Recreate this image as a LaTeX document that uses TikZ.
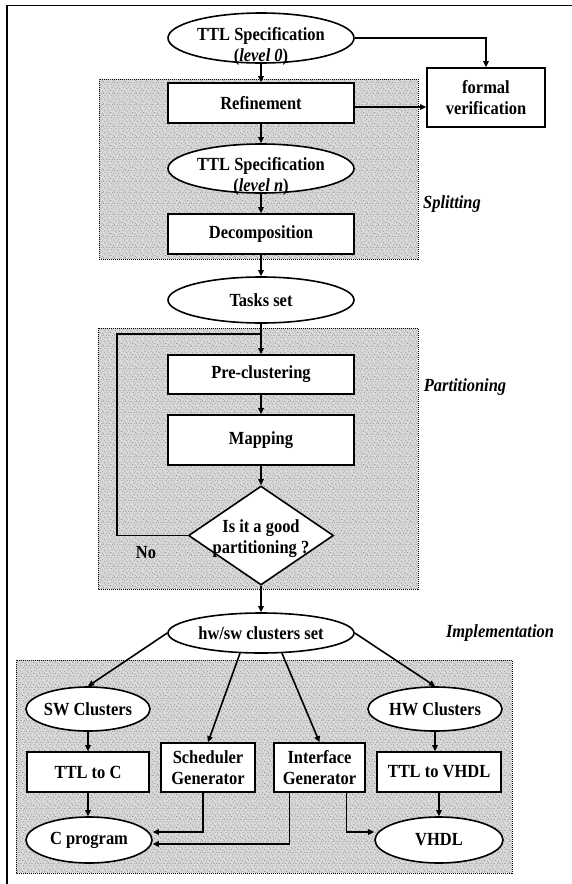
\documentclass[tikz,border=0pt]{standalone}
\usepackage{fontspec}
\setmainfont{Liberation Serif}[FakeStretch=0.89]
\usetikzlibrary{shapes.geometric,arrows.meta,patterns}

% irregular stipple used to texture the shaded phase areas
\pgfdeclarepatternformonly{stipple}{\pgfpointorigin}{\pgfpoint{11pt}{11pt}}{\pgfpoint{11pt}{11pt}}{%
  \foreach \px/\py in {0.4/1.2, 3.1/0.3, 6.8/1.9, 9.5/0.8, 1.7/4.1, 5.2/3.6, 8.3/4.9,
                       10.2/3.1, 0.9/7.4, 3.8/6.2, 6.1/8.0, 9.0/7.1, 2.5/9.6, 7.4/10.1, 4.6/10.4, 10.6/9.8} {
    \pgfpathrectangle{\pgfpoint{\px pt}{\py pt}}{\pgfpoint{0.8pt}{0.8pt}}%
  }
  \pgfusepath{fill}%
}

\begin{document}
\begin{tikzpicture}[x=1pt,y=-1pt,
  every node/.style={font=\fontsize{18.5}{21}\selectfont\bfseries},
  box/.style={draw, fill=white, line width=1.6pt, inner sep=0pt, align=center},
  oval/.style={draw, fill=white, ellipse, line width=1.6pt, inner sep=0pt},
  test/.style={draw, fill=white, diamond, line width=1.6pt, inner sep=0pt},
  txt/.style={inner sep=0pt, align=center},
  zone/.style={fill=black!15, draw=black, dash pattern=on 1pt off 1pt, line width=1pt,
               postaction={pattern=stipple, pattern color=black!60}},
  phase/.style={inner sep=0pt, font=\fontsize{18.5}{21}\selectfont\bfseries\itshape},
  flow/.style={line width=1.6pt, -{Triangle[length=6pt,width=5.5pt]}},
  wire/.style={line width=1.6pt}
]
\useasboundingbox (0,0) rectangle (572,884);

% page frame
\draw[line width=1.5pt] (7,884) -- (7,5.5) -- (572,5.5);

% shaded phase areas
\path[zone] (99,79) rectangle (418,259);
\path[zone] (98,328) rectangle (418,589);
\path[zone] (16,660) rectangle (512,873);

% phase names
\node[phase] (lsplit) at (452,204) {Splitting};
\node[phase] (lpart) at (465,387) {Partitioning};
\node[phase] (limpl) at (500,633) {Implementation};

% splitting
\node[oval, minimum width=186pt, minimum height=50pt] (spec0) at (261,38) {};
\node[txt] (spec0txt) at (261,46) {TTL Specification\\(\textit{level 0})};
\node[box, minimum width=118pt, minimum height=59pt] (formal) at (486,97.5) {formal\\verification};
\node[box, minimum width=186pt, minimum height=40pt] (refine) at (261,103) {Refinement};
\node[oval, minimum width=186pt, minimum height=49pt] (specn) at (261,168.5) {};
\node[txt] (specntxt) at (261,176) {TTL Specification\\(\textit{level n})};
\node[box, minimum width=186pt, minimum height=40pt] (decomp) at (261,234) {Decomposition};

% partitioning
\node[oval, minimum width=186pt, minimum height=46pt] (tasks) at (261,300) {};
\node[txt] (taskstxt) at (tasks) {Tasks set};
\node[box, minimum width=186pt, minimum height=39pt] (pre) at (261,374.5) {Pre-clustering};
\node[box, minimum width=186pt, minimum height=50pt] (mapping) at (261,440) {Mapping};
\node[test, minimum width=145pt, minimum height=99pt] (good) at (261,535.5) {};
\node[txt] (goodtxt) at (261,539) {Is it a good\\partitioning ?};
\node[txt] (nolbl) at (146,553) {No};

% implementation
\node[oval, minimum width=186pt, minimum height=40pt] (hw) at (261,633) {};
\node[txt] (hwtxt) at (hw) {hw/sw clusters set};
\node[oval, minimum width=124pt, minimum height=44pt] (swc) at (88,709) {};
\node[txt] (swctxt) at (swc) {SW Clusters};
\node[oval, minimum width=134pt, minimum height=44pt] (hwc) at (435,709) {};
\node[txt] (hwctxt) at (hwc) {HW Clusters};
\node[box, minimum width=122pt, minimum height=40pt] (ttlc) at (88,772) {TTL to C};
\node[box, minimum width=94pt, minimum height=49pt] (sched) at (208,767.5) {Scheduler\\Generator};
\node[box, minimum width=91pt, minimum height=49pt] (intf) at (319.5,767.5) {Interface\\Generator};
\node[box, minimum width=124pt, minimum height=40pt] (ttlv) at (439,772) {TTL to VHDL};
\node[oval, minimum width=126pt, minimum height=46pt] (cprog) at (89,840) {};
\node[txt] (cprogtxt) at (cprog) {C program};
\node[oval, minimum width=128pt, minimum height=46pt] (vhdl) at (439,840) {};
\node[txt] (vhdltxt) at (vhdl) {VHDL};

% splitting flow
\draw[flow] (spec0.south) -- (refine.north);
\draw[flow] (spec0.east) -| (formal.north);
\draw[flow] ([yshift=-4pt]refine.east) -- ([yshift=-4pt]refine.east -| formal.west);
\draw[flow] (refine.south) -- (specn.north);
\draw[flow] (specn.south) -- (decomp.north);
\draw[flow] (decomp.south) -- (tasks.north);

% partitioning flow with the retry loop
\coordinate (loopcorner) at (116.7,334);
\draw[flow] (tasks.south) -- (pre.north);
\draw[wire] (good.west) -| (loopcorner) -- (loopcorner -| pre.north);
\draw[flow] (pre.south) -- (mapping.north);
\draw[flow] (mapping.south) -- (good.north);
\draw[flow] (good.south) -- (hw.north);

% implementation flow
\draw[flow] (hw.west) -- (swc.north);
\draw[flow] (hw.224) -- (sched.north);
\draw[flow] (hw.316) -- (intf.north);
\draw[flow] (hw.east) -- (hwc.north);
\draw[flow] (swc.south) -- (swc.south |- ttlc.north);
\draw[flow] (ttlc.south) -- (ttlc.south |- cprog.north);
\draw[flow] (hwc.south) -- (hwc.south |- ttlv.north);
\draw[flow] (ttlv.south) -- (vhdl.north);
\draw[flow] ([xshift=-5pt]sched.south) |- ([yshift=8pt]cprog.east);
\draw[flow] ([xshift=-30pt]intf.south) |- ([yshift=-4pt]cprog.east);
\draw[flow] ([xshift=27pt]intf.south) |- ([yshift=8pt]vhdl.west);
\end{tikzpicture}
\end{document}
